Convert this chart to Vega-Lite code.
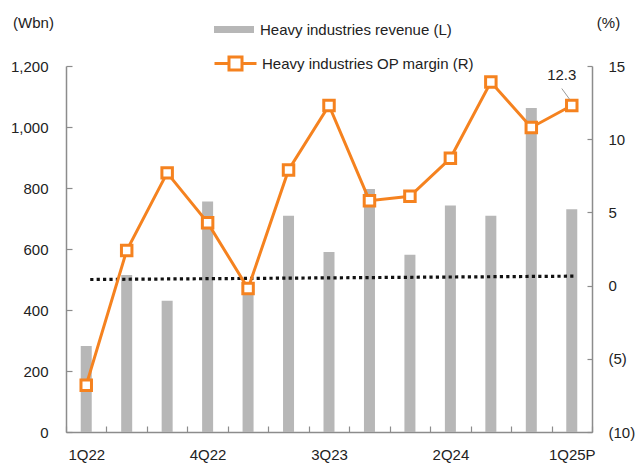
{
  "$schema": "https://vega.github.io/schema/vega-lite/v6.json",
  "width": 526,
  "height": 366,
  "autosize": {"type": "none"},
  "padding": {"left": 66, "top": 66, "right": 46, "bottom": 32},
  "config": {
    "view": {"stroke": null},
    "font": "Liberation Sans",
    "axis": {"labelFont": "Liberation Sans", "labelFontSize": 15, "labelColor": "#222", "titleFont": "Liberation Sans", "titleFontSize": 15, "titleColor": "#222", "titleFontWeight": "normal", "domainColor": "#8c8c8c", "tickColor": "#8c8c8c", "domainWidth": 1.5, "tickWidth": 1.2, "grid": false},
    "legend": {"labelFont": "Liberation Sans", "labelFontSize": 15, "labelColor": "#222", "padding": 0, "labelLimit": 0}
  },
  "data": {
    "values": [
      {"q": "1Q22", "rev": 282, "margin": -6.8, "trend": 500},
      {"q": "2Q22", "rev": 515, "margin": 2.4},
      {"q": "3Q22", "rev": 430, "margin": 7.7},
      {"q": "4Q22", "rev": 756, "margin": 4.3},
      {"q": "1Q23", "rev": 468, "margin": -0.2},
      {"q": "2Q23", "rev": 709, "margin": 7.9},
      {"q": "3Q23", "rev": 590, "margin": 12.3},
      {"q": "4Q23", "rev": 797, "margin": 5.8},
      {"q": "1Q24", "rev": 581, "margin": 6.1},
      {"q": "2Q24", "rev": 743, "margin": 8.7},
      {"q": "3Q24", "rev": 709, "margin": 13.9},
      {"q": "4Q24", "rev": 1062, "margin": 10.8},
      {"q": "1Q25P", "rev": 730, "margin": 12.3, "trend": 511, "label": "12.3"}
    ]
  },
  "encoding": {
    "x": {"field": "q", "type": "nominal", "sort": null, "scale": {"paddingInner": 0, "paddingOuter": 0},
      "axis": {"title": null, "labelAngle": 0, "tickBand": "extent", "tickSize": -6, "labelPadding": 21,
        "labelExpr": "indexof(['1Q22','4Q22','3Q23','2Q24','1Q25P'], datum.value) >= 0 ? datum.label : ''"}}
  },
  "layer": [
    {
      "encoding": {
        "y": {"type": "quantitative", "scale": {"domain": [0, 1200]},
          "axis": {"title": "(Wbn)", "titleAngle": 0, "titleAlign": "center", "titleBaseline": "middle", "titleX": -33, "titleY": -44, "values": [0, 200, 400, 600, 800, 1000, 1200], "format": ",d", "tickSize": -6, "labelPadding": 24}}
      },
      "layer": [
        {
          "mark": {"type": "bar", "width": 11},
          "encoding": {
            "y": {"field": "rev", "type": "quantitative"},
            "color": {"datum": "Heavy industries revenue (L)", "type": "nominal",
              "scale": {"range": ["#b7b7b7"]},
              "legend": {"title": null, "orient": "none", "legendX": 148, "legendY": -56.5, "symbolType": "M-1,-0.175H1V0.175H-1Z", "symbolSize": 1600, "symbolStrokeWidth": 0, "labelOffset": 6, "labelLimit": 0}}
          }
        },
        {
          "transform": [{"filter": "isValid(datum.trend)"}],
          "mark": {"type": "line", "color": "#111", "strokeWidth": 3.2, "strokeDash": [3.2, 3.2], "xOffset": 4},
          "encoding": {"y": {"field": "trend", "type": "quantitative"}}
        }
      ]
    },
    {
      "encoding": {
        "y": {"type": "quantitative", "scale": {"domain": [-10, 15]},
          "axis": {"orient": "right", "title": "(%)", "titleAngle": 0, "titleAlign": "center", "titleBaseline": "middle", "titleX": 16, "titleY": -44, "values": [-10, -5, 0, 5, 10, 15], "tickSize": -5, "labelPadding": 21,
            "labelExpr": "datum.value < 0 ? '(' + abs(datum.value) + ')' : datum.label"}}
      },
      "layer": [
        {
          "mark": {"type": "line", "strokeWidth": 3},
          "encoding": {
            "y": {"field": "margin", "type": "quantitative"},
            "stroke": {"datum": "Heavy industries OP margin (R)", "type": "nominal",
              "scale": {"range": ["#f5821f"]},
              "legend": {"title": null, "orient": "none", "legendX": 147, "legendY": -25, "symbolType": "M-1,0H-0.31M0.31,0H1M-0.31,-0.31H0.31V0.31H-0.31Z", "symbolSize": 1764, "symbolStrokeWidth": 3, "symbolFillColor": "white", "labelOffset": 4, "labelLimit": 0}}
          }
        },
        {
          "mark": {"type": "point", "shape": "square", "filled": true, "fill": "white", "stroke": "#f5821f", "strokeWidth": 3, "size": 110, "opacity": 1},
          "encoding": {"y": {"field": "margin", "type": "quantitative"}}
        },
        {
          "transform": [{"filter": "isValid(datum.label)"}],
          "mark": {"type": "rule", "color": "#999", "strokeWidth": 1, "xOffset": -10, "x2Offset": -2, "yOffset": -17, "y2Offset": -6},
          "encoding": {"x2": {"field": "q"}, "y": {"field": "margin", "type": "quantitative"}, "y2": {"field": "margin"}}
        },
        {
          "transform": [{"filter": "isValid(datum.label)"}],
          "mark": {"type": "text", "fontSize": 15, "color": "#222", "dx": -10, "dy": -31, "baseline": "middle", "align": "center"},
          "encoding": {"y": {"field": "margin", "type": "quantitative"}, "text": {"field": "label"}}
        }
      ]
    }
  ],
  "resolve": {"scale": {"y": "independent", "color": "independent", "stroke": "independent"}}
}
